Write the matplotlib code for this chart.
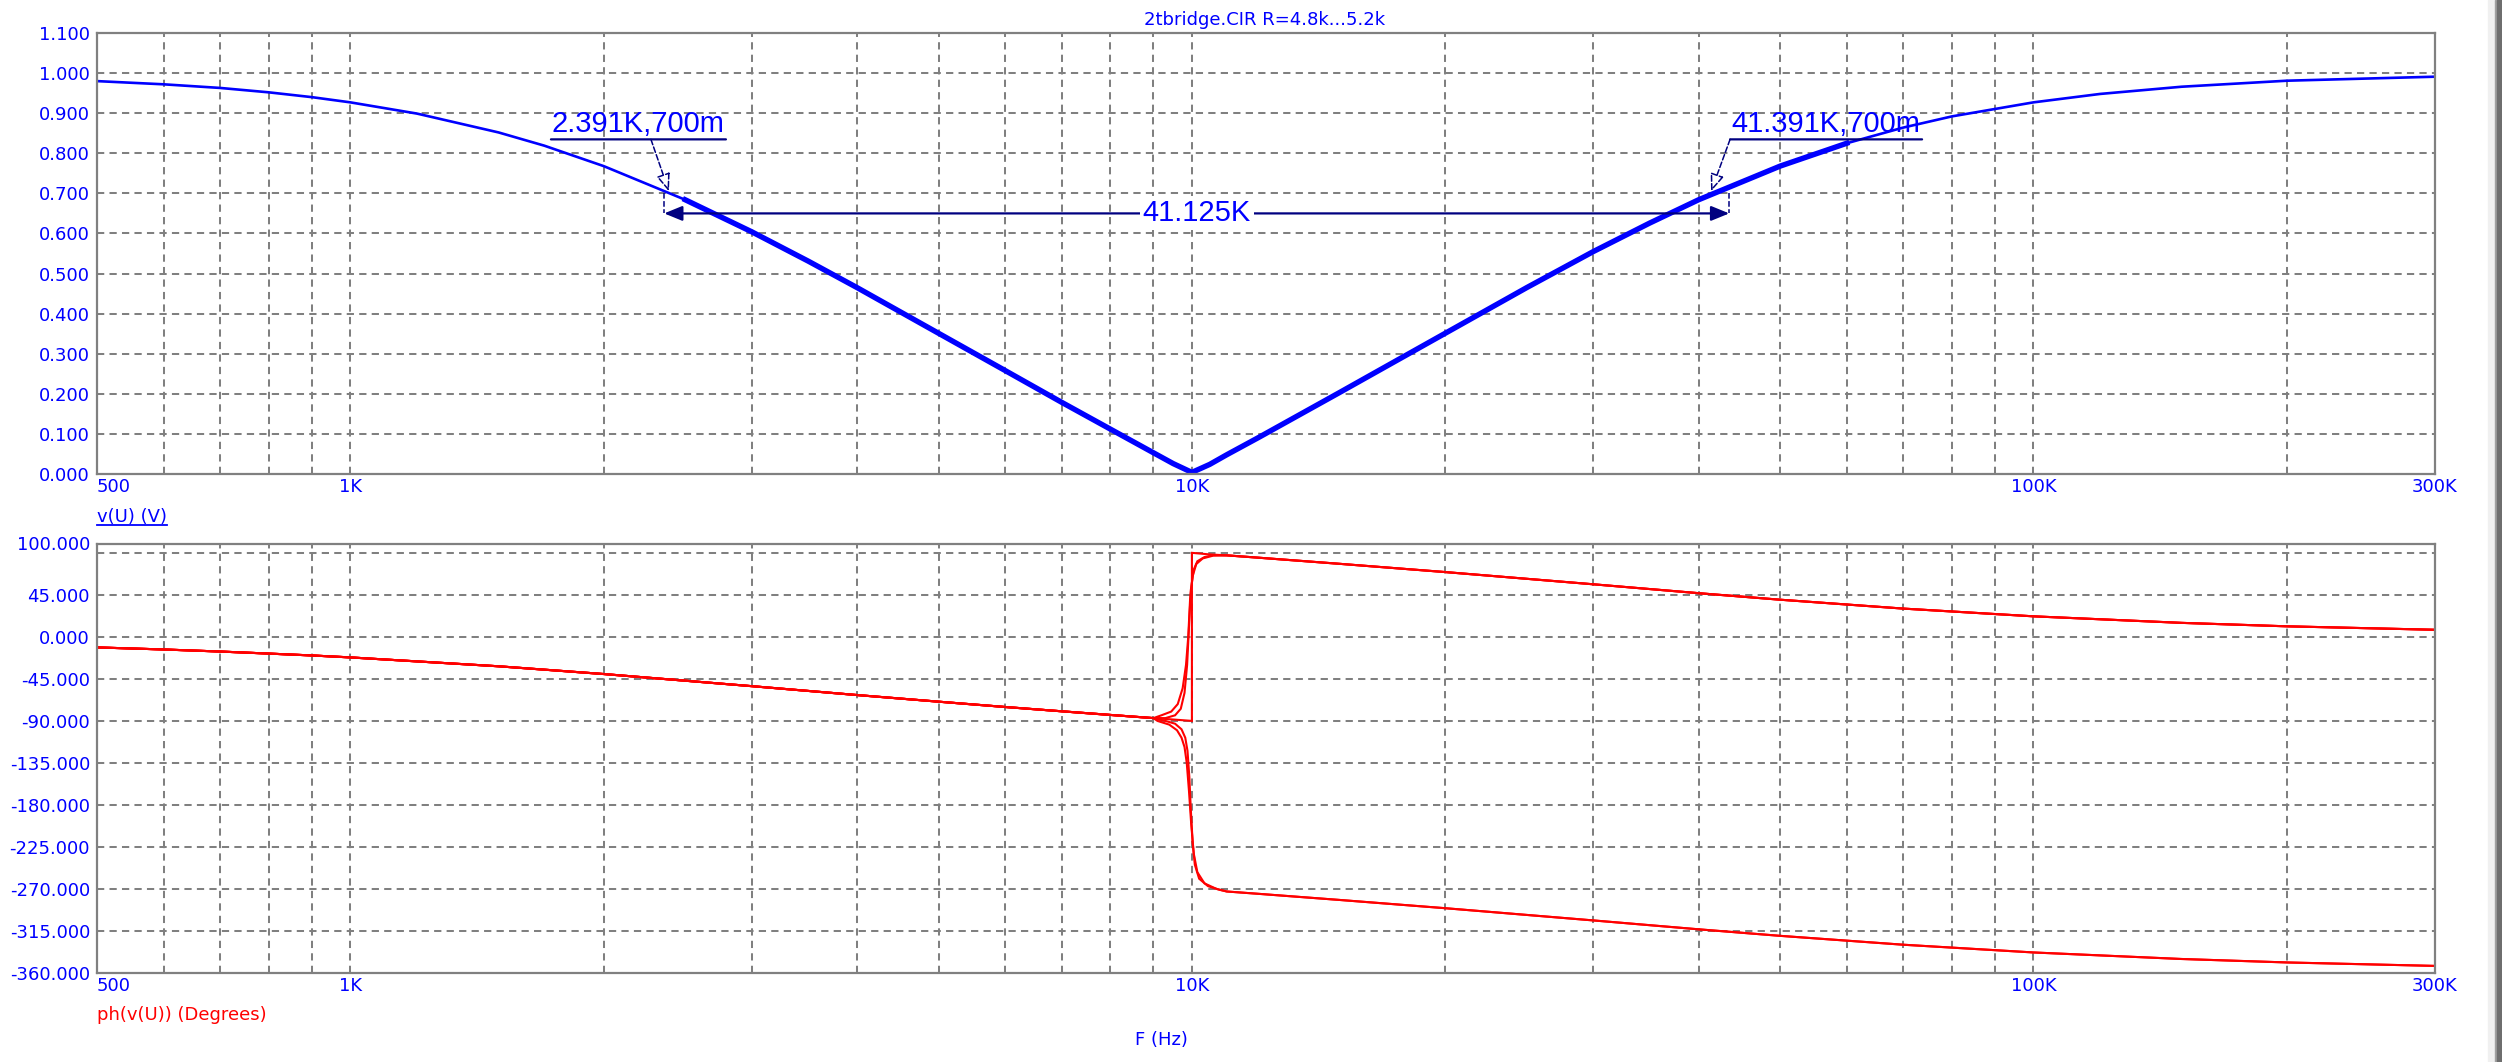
"""
2tbridge.CIR AC sweep (R=4.8k...5.2k) -- magnitude and phase of v(U).
Redrawn in matplotlib to look like the Micro-Cap analysis window.
"""

import numpy as np
import matplotlib
matplotlib.use("Agg")  # non-interactive backend
import matplotlib.pyplot as plt
from matplotlib.lines import Line2D
from matplotlib.patches import Rectangle
from matplotlib.text import OffsetFrom
from matplotlib.ticker import NullFormatter


# ------------------------------------------------------------------ #
#  Data
# ------------------------------------------------------------------ #
# |v(U)| in volts
mag_freq = [500, 600, 700, 800, 900, 1e3, 1.2e3, 1.5e3, 1.7e3, 2e3, 2.5e3,
             3e3, 3.5e3, 4e3, 5e3, 6e3, 7e3, 8e3, 9e3, 9.5e3, 10e3, 10.5e3,
             11e3, 12e3, 15e3, 17e3, 20e3, 25e3, 30e3, 35e3, 40e3, 50e3,
             60e3, 70e3, 80e3, 100e3, 120e3, 150e3, 200e3, 300e3]
mag_volts = [0.980, 0.972, 0.963, 0.952, 0.940, 0.927, 0.899, 0.852, 0.819,
             0.768, 0.684, 0.604, 0.531, 0.465, 0.351, 0.258, 0.179, 0.112,
             0.053, 0.026, 0.004, 0.024, 0.048, 0.091, 0.204, 0.268, 0.351,
             0.465, 0.555, 0.626, 0.684, 0.768, 0.825, 0.864, 0.892, 0.927,
             0.948, 0.966, 0.981, 0.991]

# ph(v(U)) in degrees, below the notch (shared by all five steps)
phase_freq_low = [500, 600, 700, 800, 900, 1e3, 1.5e3, 2e3, 3e3, 4e3, 5e3,
                  6e3, 7e3, 8e3, 9e3]
phase_low = [-11.3, -13.5, -15.7, -17.9, -19.9, -22.0, -31.5, -39.8, -52.8,
             -62.3, -69.4, -75.1, -79.7, -83.6, -87.0]

# above the notch: branch that wrapped up (+) and branch that wrapped down (-)
phase_freq_high = [11e3, 12e3, 15e3, 20e3, 30e3, 40e3, 50e3, 70e3, 100e3,
                   150e3, 200e3, 300e3]
phase_high_up = [87.3, 84.8, 78.2, 69.4, 56.3, 46.8, 39.8, 30.3, 22.0, 15.0,
                 11.3, 7.6]
phase_high_down = [-272.7, -275.2, -281.8, -290.6, -303.7, -313.2, -320.2,
                   -329.7, -338.0, -345.0, -348.7, -352.4]

# transition through 10K for each R step
notch_a_freq = [9.5e3, 10e3, 10e3, 10.5e3]
notch_a_phase = [-88.5, -90.0, 90.0, 88.3]
notch_b_freq = [9.2e3, 9.45e3, 9.62e3, 9.75e3, 9.84e3, 9.9e3, 9.95e3,
                10.02e3, 10.12e3, 10.3e3, 10.6e3]
notch_b_phase = [-84, -80, -72, -55, -30, 0, 40, 65, 78, 84, 87]
notch_c_freq = [9.3e3, 9.55e3, 9.7e3, 9.8e3, 9.87e3, 9.92e3, 9.97e3,
                10.05e3, 10.15e3, 10.35e3, 10.6e3]
notch_c_phase = [-87, -84, -77, -60, -30, 10, 50, 72, 81, 85.5, 87.5]
notch_d_freq = [9.1e3, 9.4e3, 9.6e3, 9.72e3, 9.8e3, 9.86e3, 9.92e3, 9.98e3,
                10.05e3, 10.15e3, 10.35e3, 10.7e3]
notch_d_phase = [-90, -94, -100, -108, -118, -135, -165, -200, -232, -252,
                 -264, -270]
notch_e_freq = [9.3e3, 9.55e3, 9.72e3, 9.82e3, 9.88e3, 9.93e3, 9.97e3,
                10.02e3, 10.08e3, 10.2e3, 10.45e3, 10.8e3]
notch_e_phase = [-90, -93, -99, -108, -122, -150, -185, -220, -244, -259,
                 -267, -271]

# cursors on the magnitude plot
cursor_left = (2391, 0.700)
cursor_right = (41391, 0.700)
cursor_delta = "41.125K"
dim_freq = (2360, 43500)
dim_level = 0.65

x_tick_vals = [500, 1e3, 1e4, 1e5, 3e5]
x_tick_text = ["500", "1K", "10K", "100K", "300K"]
mag_ticks = [round(0.1 * i, 1) for i in range(12)]
phase_ticks = [-360, -315, -270, -225, -180, -135, -90, -45, 0, 45, 100]


# ------------------------------------------------------------------ #
#  Style
# ------------------------------------------------------------------ #
BLUE = "#0000ff"
NAVY = "#000080"
RED = "#ff0000"
GRID = "#808080"
W, H = 2502, 1062

plt.rcParams["font.family"] = "DejaVu Sans"
LABEL_FONT = dict(fontsize=13, color=BLUE)
CURSOR_FONT = dict(fontsize=21, color=BLUE, family="Liberation Sans")


def style_axes(ax, yticks, ylabels, ylim):
    ax.set_xscale("log")
    ax.set_xlim(500, 3e5)
    ax.set_ylim(*ylim)
    ax.set_xticks(x_tick_vals, x_tick_text)
    grid_minor = [m * 10 ** d for d in (2, 3, 4, 5) for m in range(2, 10)
                  if 500 < m * 10 ** d < 3e5 and m * 10 ** d not in x_tick_vals]
    ax.set_xticks(grid_minor, minor=True)
    ax.xaxis.set_minor_formatter(NullFormatter())
    ax.set_yticks(yticks, ylabels)
    ax.tick_params(which="both", length=0, labelsize=13, labelcolor=BLUE)
    ax.tick_params(axis="x", pad=3)
    ax.tick_params(axis="y", pad=5)
    ax.xaxis.get_majorticklabels()[0].set_horizontalalignment("left")
    ax.grid(which="both", color=GRID, lw=1.45, linestyle=(0, (3.6, 2.6)))
    ax.set_axisbelow(True)
    for sp in ax.spines.values():
        sp.set_color(GRID)
        sp.set_linewidth(1.6)


def cursor_label(ax, point, text, dx_text, underline, dx_leader):
    """Micro-Cap style cursor tag: underlined value with a dashed leader."""
    ref = OffsetFrom(ax.transData, point, unit="pixels")
    ax.annotate(text, xy=(dx_text, 61), xycoords=ref, ha="left",
                va="baseline", **CURSOR_FONT)
    ax.annotate("", xy=(underline[1], 54), xycoords=ref,
                xytext=(underline[0], 54), textcoords=ref,
                arrowprops=dict(arrowstyle="-", color=NAVY, lw=1.6,
                                shrinkA=0, shrinkB=0))
    ax.annotate("", xy=(0, 2), xycoords=ref,
                xytext=(dx_leader, 54), textcoords=ref,
                arrowprops=dict(arrowstyle="-|>,head_length=0.9,head_width=0.35",
                                mutation_scale=12, fc="white", ec=NAVY,
                                lw=1.1, ls="--", shrinkA=0, shrinkB=0))


fig = plt.figure(figsize=(W / 100, H / 100), dpi=100)
ax_mag = fig.add_axes([97 / W, 1 - 474 / H, 2338 / W, 441 / H])
ax_ph = fig.add_axes([97 / W, 1 - 973 / H, 2338 / W, 429.5 / H])

# ------------------------------------------------------------------ #
#  Magnitude
# ------------------------------------------------------------------ #
style_axes(ax_mag, mag_ticks, [f"{v:.3f}" for v in mag_ticks], (0, 1.1))

f_mag = np.array(mag_freq)
v_mag = np.array(mag_volts)
ax_mag.plot(f_mag, v_mag, color=BLUE, lw=1.9, solid_joinstyle="round")
# the five R steps pile up around the notch -> trace looks heavier there
band = (f_mag >= 2.5e3) & (f_mag <= 60e3)
ax_mag.plot(f_mag[band], v_mag[band], color=BLUE, lw=3.9,
            solid_joinstyle="round")

cursor_label(ax_mag, cursor_left, f"{cursor_left[0] / 1e3:.3f}K,700m",
             -117, (-118, 57), -18)
cursor_label(ax_mag, cursor_right, f"{cursor_right[0] / 1e3:.3f}K,700m",
             20, (19, 211), 19)

for fx in dim_freq:
    ax_mag.plot([fx, fx], [cursor_left[1], dim_level], color=NAVY, lw=1.1,
                ls="--")
ax_mag.annotate("", xy=(dim_freq[0], dim_level),
                xytext=(dim_freq[1], dim_level),
                arrowprops=dict(arrowstyle="<|-|>,head_length=1.1,head_width=0.45",
                                mutation_scale=10, color=NAVY, lw=1.6,
                                shrinkA=0, shrinkB=0))
ax_mag.text(np.sqrt(dim_freq[0] * dim_freq[1]), dim_level, cursor_delta,
            ha="center", va="center", zorder=5,
            bbox=dict(fc="white", ec="none", pad=2), **CURSOR_FONT)

# ------------------------------------------------------------------ #
#  Phase
# ------------------------------------------------------------------ #
style_axes(ax_ph, phase_ticks, [f"{v:.3f}" for v in phase_ticks], (-360, 100))
ax_ph.set_yticks([90], minor=True)
ax_ph.tick_params(which="both", length=0)

steps = [
    (notch_a_freq, notch_a_phase, phase_high_up),
    (notch_b_freq, notch_b_phase, phase_high_up),
    (notch_c_freq, notch_c_phase, phase_high_up),
    (notch_d_freq, notch_d_phase, phase_high_down),
    (notch_e_freq, notch_e_phase, phase_high_down),
]
for nf, nph, branch in steps:
    ff = np.concatenate([phase_freq_low, nf, phase_freq_high])
    pp = np.concatenate([phase_low, nph, branch])
    ax_ph.plot(ff, pp, color=RED, lw=1.5, solid_joinstyle="miter")

# ------------------------------------------------------------------ #
#  Window texts
# ------------------------------------------------------------------ #
fig.text(1265 / W, 1 - 20 / H, "2tbridge.CIR R=4.8k...5.2k", ha="center",
         va="center", **LABEL_FONT)
vlab = fig.text(97 / W, 1 - 517 / H, "v(U) (V)", ha="left", va="center",
                **LABEL_FONT)
fig.text(97 / W, 1 - 1015 / H, "ph(v(U)) (Degrees)", ha="left",
         va="center", fontsize=13, color=RED)
fig.text(1161 / W, 1 - 1040 / H, "F (Hz)", ha="center", va="center",
         **LABEL_FONT)

fig.canvas.draw()
bb = vlab.get_window_extent()
fig.add_artist(Line2D([bb.x0 / W, bb.x1 / W], [1 - 525 / H, 1 - 525 / H],
                      transform=fig.transFigure, color=BLUE, lw=1.3))

# scroll bar edge on the right of the window
for x0, x1, col in [(2488, 2495, "#f0f0f0"), (2495, 2497, "#a0a0a0"),
                    (2497, 2502, "#6e6e6e")]:
    fig.patches.append(Rectangle((x0 / W, 0), (x1 - x0) / W, 1,
                                 transform=fig.transFigure, color=col,
                                 zorder=-1))

fig.savefig("out.png", dpi=100, facecolor="white")
